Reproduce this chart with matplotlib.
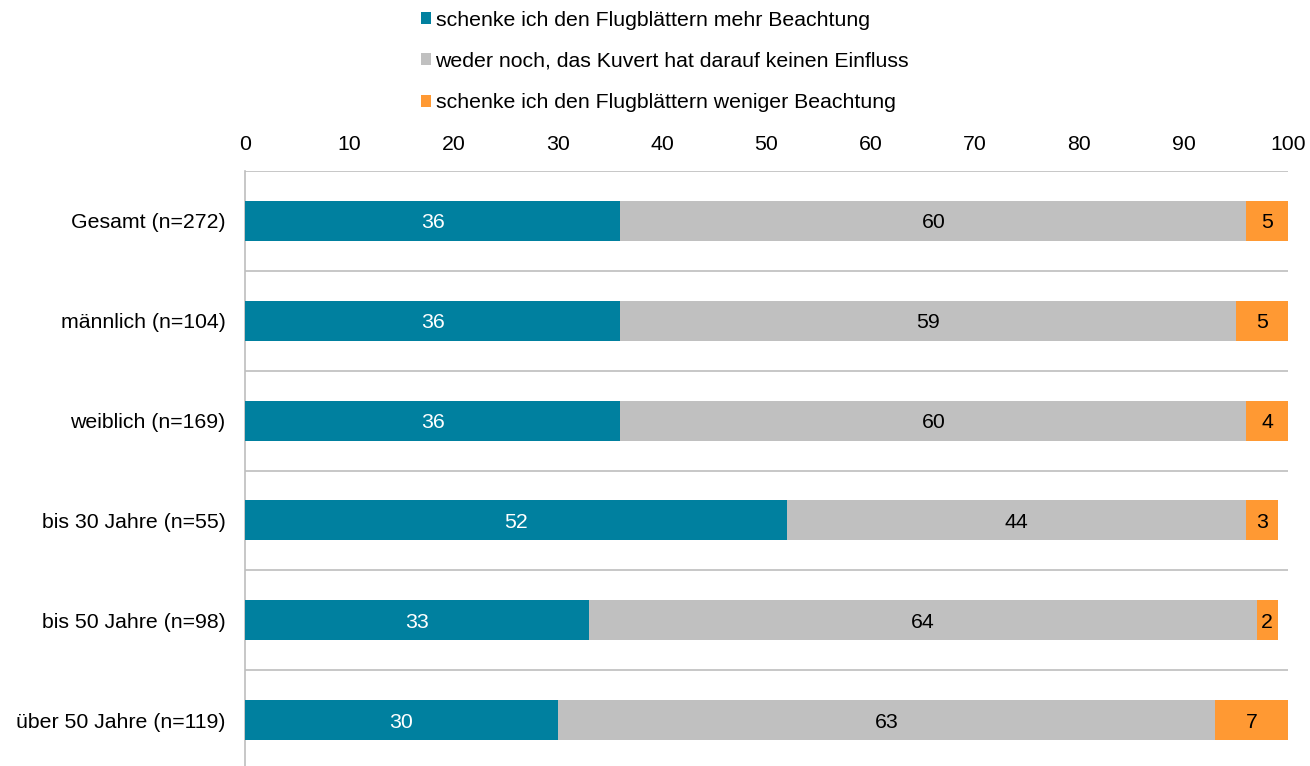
import matplotlib
matplotlib.use("Agg")
import matplotlib.pyplot as plt
from matplotlib.patches import Patch

plt.rcParams['font.family'] = ['Liberation Sans', 'DejaVu Sans']

categories = ["Gesamt (n=272)", "männlich (n=104)", "weiblich (n=169)",
              "bis 30 Jahre (n=55)", "bis 50 Jahre (n=98)", "über 50 Jahre (n=119)"]
mehr = [36, 36, 36, 52, 33, 30]
weder = [60, 59, 60, 44, 64, 63]
weniger = [5, 5, 4, 3, 2, 7]
series_names = ["schenke ich den Flugblättern mehr Beachtung",
                "weder noch, das Kuvert hat darauf keinen Einfluss",
                "schenke ich den Flugblättern weniger Beachtung"]
colors = ["#00809F", "#C0C0C0", "#FF9933"]
text_colors = ["white", "black", "black"]
fs = 15.3

fig = plt.figure(figsize=(13.1, 7.66), dpi=100)
ax = fig.add_axes([245 / 1310, -4 / 766, (1288 - 245) / 1310, 599 / 766])

y = list(range(len(categories)))
left = [0] * len(categories)
for vals, col, tc in zip([mehr, weder, weniger], colors, text_colors):
    ax.barh(y, vals, left=left, height=0.4, color=col, zorder=3)
    for yi, v, l in zip(y, vals, left):
        cx = min(l + v / 2, (l + 100) / 2)
        ax.text(cx, yi + 0.02, str(v), ha='center', va='center', color=tc, fontsize=fs, zorder=4)
    left = [l + v for l, v in zip(left, vals)]

# separators between the groups
for b in [i - 0.5 for i in range(len(categories) + 1)]:
    ax.axhline(b, color='#BEBEBE', lw=1.2, zorder=1)

ax.set_xlim(0, 100)
ax.set_ylim(len(categories) - 0.5, -0.5)
ax.set_xticks(range(0, 101, 10))
ax.xaxis.tick_top()
ax.set_yticks(y)
ax.set_yticklabels(categories)
ax.tick_params(axis='both', length=0, labelsize=fs, colors='black')
ax.tick_params(axis='x', pad=12)
ax.tick_params(axis='y', pad=14)
for s in ['top', 'right', 'bottom']:
    ax.spines[s].set_visible(False)
ax.spines['left'].set_color('#BEBEBE')
ax.spines['left'].set_linewidth(1.2)

handles = [Patch(facecolor=c, edgecolor='none') for c in colors]
fig.legend(handles, series_names, loc='upper left', bbox_to_anchor=(410 / 1310, 1.0),
           frameon=False, fontsize=fs, handlelength=0.5, handleheight=0.5,
           handletextpad=0.2, labelspacing=1.05, borderaxespad=0.1)

fig.savefig("out.png", dpi=100)
